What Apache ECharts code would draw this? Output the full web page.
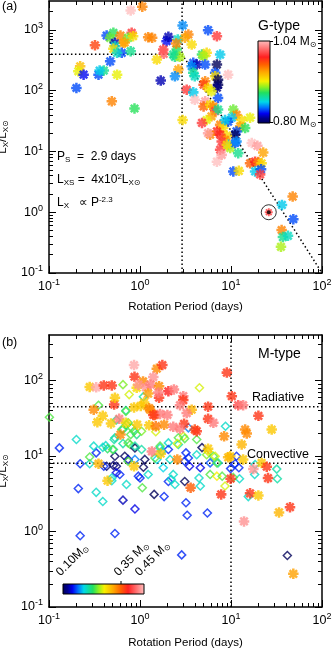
<!DOCTYPE html>
<html>
<head>
<meta charset="utf-8">
<script src="https://cdn.jsdelivr.net/npm/echarts@6/dist/echarts.min.js"></script>
<style>
html,body{margin:0;padding:0;background:#fff;}
#main{width:332px;height:650px;}
</style>
</head>
<body>
<div id="main"></div>
<script>
// (a) G-type stars: [rotation period (days), Lx/Lx_sun, mass (Msun)]
var gStars = [
 [0.79,2100,1.04],[1.06,2420,0.96],[0.32,561,0.98],[0.43,811,0.84],[0.51,899,0.89],
 [0.47,743,0.90],[0.53,615,0.82],[0.61,811,0.96],[0.65,615,0.95],[0.53,541,0.87],
 [0.81,899,1.00],[0.74,743,0.90],[0.84,790,0.93],[0.51,490,0.93],[0.63,421,0.84],
 [0.79,447,0.88],[0.47,305,0.84],[0.22,253,0.94],[0.21,209,0.92],[0.24,184,0.83],
 [0.35,184,0.84],[0.40,215,0.88],[0.36,215,0.86],[0.20,111,0.84],[0.56,184,0.92],
 [0.49,67,0.96],[0.87,51,0.89],[1.23,760,0.96],[1.36,743,0.96],[1.96,653,0.83],
 [2.05,773,0.82],[1.80,476,1.00],[1.82,405,1.01],[1.53,326,0.93],[2.53,476,0.89],
 [2.42,361,0.88],[2.73,361,0.91],[2.6,700,0.87],[2.64,223,0.95],[2.42,173,0.85],
 [1.69,147,0.82],[2.94,1190,0.85],[2.94,33,0.93],[3.40,843,0.96],[3.12,743,0.95],
 [3.70,576,0.93],[2.5,600,0.96],[2.32,394,0.88],[5.6,993,0.84],[7.0,790,1.00],
 [7.6,394,0.86],[4.8,394,0.89],[5.4,421,0.93],[5.0,370,0.91],[3.85,288,0.84],
 [4.2,270,0.82],[3.70,253,0.85],[5.2,270,0.84],[7.0,270,0.80],[3.85,197,0.88],
 [4.0,173,0.87],[6.7,197,0.84],[6.7,173,0.93],[7.2,152,0.80],[9.3,184,1.04],
 [7.2,126,0.80],[7.0,112,0.81],[5.2,143,0.96],[5.0,126,0.98],[5.6,111,0.93],
 [3.26,104,1.00],[3.85,94,0.86],[7.2,76,0.84],[4.0,71,1.04],[5.2,67,1.03],
 [5.0,55,0.97],[5.9,59,0.93],[6.4,55,0.96],[6.7,46,1.00],[7.2,49,0.88],
 [6.1,38,0.95],[5.4,33,0.92],[10.6,49,0.90],[11.5,40,0.96],[10.2,36,0.86],
 [13.1,33,0.93],[16.2,36,0.92],[9.3,31,0.84],[4.8,29.5,1.00],[7.6,27.6,0.96],
 [8.2,24.3,0.93],[7.0,21.4,0.99],[12.6,25.9,0.95],[14.3,24.3,0.89],[11.5,21.4,0.84],
 [11.1,18.9,0.80],[5.9,18.9,0.96],[9.0,18.2,0.93],[7.6,18.9,0.99],[8.6,15.6,0.96],
 [9.3,12.9,0.86],[7.6,10.7,1.00],[9.8,11.4,0.91],[11.1,13.8,0.84],[12.0,9.4,0.88],
 [7.0,6.8,1.04],[7.9,8.8,1.03],[16.9,13.8,1.04],[19.5,12.4,1.03],[22.6,9.6,0.95],
 [16.2,6.4,0.97],[18.4,6.8,0.99],[20,6.7,0.96],[21.7,6.4,0.93],[10.6,4.7,0.84],
 [12.2,4.8,0.93],[18.4,4.7,0.86],[21.4,5.1,0.84],[20.9,4.2,1.00],[47.6,1.81,0.96],
 [36.3,1.32,0.86],[48.4,0.77,0.84],[36,0.51,0.96],[37.2,0.39,0.88],[42.3,0.41,0.87],
 [35.4,0.27,0.91],[5.6,20,1.03],[7.9,14.6,1.00],[11.5,14.6,0.85],[8.6,33,0.86],
 [9.0,12.9,0.93],[6.1,98,0.92],[0.56,421,0.87],[0.68,622,0.95]
];
var sunPoint = [[26, 1.0]];
var sunMass = 1.0;
var gSatLine = [[0.105, 400], [2.9, 400]];
var gPsLine = [[2.9, 0.1], [2.9, 3000]];
var gFitLine = [[2.9, 400], [100, 0.1]];

// (b) M-type stars, asterisks (partly radiative) and diamonds (fully convective)
var mRadiative = [
 [0.28,82,0.30],[0.33,81,0.44],[0.40,86,0.37],[0.49,86,0.37],[0.86,160,0.44],
 [0.87,112,0.37],[1.08,97,0.33],[1.16,81,0.43],[0.92,80,0.29],[1.53,143,0.33],
 [1.76,160,0.37],[1.40,111,0.43],[1.31,88,0.42],[1.62,84,0.33],[1.23,67,0.32],
 [2.05,72,0.38],[1.62,59,0.37],[2.36,76,0.42],[2.99,62,0.42],[0.52,48,0.37],
 [0.31,41,0.33],[0.39,34,0.30],[0.34,28,0.30],[0.48,27,0.30],[0.59,31,0.42],
 [0.70,27.5,0.29],[0.86,44,0.30],[1.02,46,0.30],[1.11,51,0.30],[1.26,43,0.33],
 [1.46,35,0.35],[1.66,36,0.42],[2.0,35,0.42],[0.93,26,0.30],[1.26,25.5,0.30],
 [1.49,24.8,0.34],[1.84,26,0.33],[3.05,26.7,0.37],[2.32,24.3,0.42],[4.0,22.4,0.36],
 [0.61,19.2,0.33],[1.35,11.5,0.42],[0.35,7.9,0.31],[1.69,10.7,0.30],[2.57,9.0,0.33],
 [2.99,55,0.37],[5.6,45,0.37],[9.0,127,0.37],[10.2,62,0.37],[12.0,47,0.40],
 [13.6,47,0.42],[20,34,0.37],[14.3,22.4,0.33],[14.9,19.8,0.33],[13.1,14.2,0.31],
 [28,22.4,0.30],[21.7,8.1,0.30],[9.8,9.9,0.30],[17.6,6.7,0.43],[24.7,7.2,0.37],
 [5.6,31,0.37],[6.4,27.5,0.42],[8.4,18.2,0.33],[3.7,41,0.31],[3.26,37,0.42],
 [4.2,21.3,0.37],[9.3,9.6,0.31],[13.6,9.0,0.30],[0.44,4.7,0.30],[0.86,7.3,0.30],
 [3.6,3.8,0.35],[7.8,3.1,0.37],[9.9,5.0,0.37],[25.5,5.1,0.37],[16.2,3.2,0.37],
 [20,3.0,0.30],[33.7,1.79,0.31],[44.5,2.1,0.37],[13.9,1.36,0.43],[48.4,0.275,0.32],
 [5.6,12.5,0.30],[2.75,23,0.42],[0.53,59,0.30],[0.96,88,0.43],[1.59,69,0.42],
 [1.29,41,0.33],[1.40,35,0.37],[2.75,47,0.42]
];
var mConvective = [
 [0.101,32.6,0.24],[0.13,12.8,0.15],[0.20,16.5,0.20],[0.22,7.9,0.15],[0.28,7.9,0.20],
 [0.33,11,0.15],[0.28,9.7,0.24],[0.31,13.5,0.20],[0.42,13.7,0.20],[0.65,88,0.25],
 [0.76,65,0.27],[4.5,80,0.27],[1.09,61,0.21],[0.70,40,0.21],[0.35,47,0.24],
 [0.55,30,0.21],[0.74,27.5,0.24],[0.63,22.4,0.24],[0.86,21.3,0.23],[0.92,19.2,0.22],
 [0.53,17.4,0.21],[0.65,14.6,0.21],[0.78,14.2,0.24],[3.4,23.6,0.17],[8.7,24.8,0.20],
 [4.8,12.9,0.10],[3.0,18.2,0.27],[2.05,14.9,0.20],[1.66,12.8,0.20],[2.64,17.4,0.24],
 [5.4,10.4,0.25],[6.4,9.9,0.24],[5.9,8.1,0.16],[7.2,8.1,0.20],[11.5,9.9,0.15],
 [11.1,7.9,0.15],[18.4,7.7,0.20],[31.8,6.7,0.21],[0.53,9.9,0.10],[0.55,7.3,0.11],
 [0.43,7.3,0.11],[0.88,12.8,0.10],[1.13,9.0,0.10],[3.1,8.5,0.15],[0.52,16.5,0.21],
 [0.65,22.4,0.22],[0.74,14.9,0.24],[0.88,13.5,0.21],[0.44,12.5,0.23],[0.51,12.2,0.21],
 [0.68,9.9,0.10],[0.74,9.0,0.13],[0.51,7.5,0.11],[0.55,6.0,0.14],[0.49,5.1,0.20],
 [1.09,7.1,0.10],[1.23,5.7,0.20],[1.0,5.1,0.15],[1.53,9.0,0.19],[1.80,7.0,0.19],
 [2.14,9.0,0.20],[2.32,5.7,0.20],[2.05,4.6,0.15],[3.4,9.4,0.15],[3.5,7.3,0.14],
 [4.6,7.0,0.14],[4.2,10.4,0.20],[6.7,9.9,0.27],[5.9,5.7,0.24],[7.0,5.4,0.28],
 [4.6,4.0,0.20],[3.1,4.6,0.10],[8.6,4.0,0.27],[4.2,16.5,0.24],[3.1,17,0.24],
 [2.64,14.2,0.21],[2.05,12.2,0.15],[1.66,13.5,0.24],[0.71,4.2,0.20],[0.21,3.7,0.15],
 [0.33,3.3,0.20],[0.39,2.5,0.20],[0.49,4.7,0.20],[0.65,2.6,0.13],[0.88,1.99,0.14],
 [1.06,3.8,0.24],[1.43,3.1,0.10],[1.84,2.9,0.15],[2.2,4.9,0.20],[3.2,2.4,0.15],
 [3.3,1.64,0.15],[5.5,1.76,0.15],[9.9,6.8,0.15],[12.2,7.0,0.15],[12.4,5.0,0.20],
 [15.5,2.9,0.20],[18.2,5.7,0.20],[32.3,5.0,0.21],[0.22,0.88,0.15],[0.53,0.94,0.15],
 [2.87,0.49,0.15],[41.6,0.48,0.10],[0.70,39,0.24],[0.71,26,0.23],[0.79,19.2,0.24],
 [1.04,21.3,0.25],[1.49,20.9,0.27],[5.6,11.5,0.27],[7.0,8.1,0.24],[0.50,12.2,0.24],
 [0.39,13,0.20],[2.57,14.6,0.27],[3.2,11,0.15],[4.45,5.1,0.20],[8.0,5.4,0.24],
 [10.6,5.2,0.24],[0.96,5.4,0.15],[0.40,7.3,0.15],[0.81,23.6,0.24],[1.04,12.2,0.21],
 [1.73,11.5,0.20],[2.42,4.2,0.20],[0.88,9.0,0.17],[1.46,9.4,0.24],[0.74,8.5,0.24],
 [0.60,5.7,0.15]
];
var mRadLine = [[0.1, 45], [100, 45]];
var mConvLine = [[0.1, 8], [100, 8]];
var mPLine = [[10, 0.1], [10, 400]];

// axis ticks
var xMajor = [0.1, 1, 10, 100];
var xMinor = [0.2,0.3,0.4,0.5,0.6,0.7,0.8,0.9,2,3,4,5,6,7,8,9,20,30,40,50,60,70,80,90];
var yMajorA = [0.1, 1, 10, 100, 1000];
var yMinorA = [0.2,0.3,0.4,0.5,0.6,0.7,0.8,0.9,2,3,4,5,6,7,8,9,20,30,40,50,60,70,80,90,
               200,300,400,500,600,700,800,900,2000];
var yMajorB = [0.1, 1, 10, 100];
var yMinorB = [0.2,0.3,0.4,0.5,0.6,0.7,0.8,0.9,2,3,4,5,6,7,8,9,20,30,40,50,60,70,80,90,200,300];
var massRangeG = [0.80, 1.04];
var massRangeM = [0.10, 0.45];

var FONT = '"Liberation Sans", Arial, Helvetica, "DejaVu Sans", sans-serif';

// rainbow + white colour table
var rampStops = [
 [0.00,[0,0,90]],[0.06,[0,0,140]],[0.12,[0,0,240]],[0.19,[0,112,255]],
 [0.26,[0,216,232]],[0.37,[32,224,96]],[0.44,[144,240,32]],[0.51,[248,240,0]],
 [0.62,[255,168,0]],[0.71,[255,96,0]],[0.80,[255,32,32]],[0.90,[255,112,112]],
 [1.00,[255,192,192]]
];
function rampColor(t){
  t = Math.max(0, Math.min(1, t));
  for (var i = 1; i < rampStops.length; i++) {
    if (t <= rampStops[i][0]) {
      var a = rampStops[i-1], b = rampStops[i];
      var f = (t - a[0]) / (b[0] - a[0]);
      var c = [0,1,2].map(function(k){ return Math.round(a[1][k] + f*(b[1][k]-a[1][k])); });
      return 'rgb(' + c.join(',') + ')';
    }
  }
  return 'rgb(255,192,192)';
}
function rampGradient(vertical){
  return {
    type:'linear', x:0, y:0, x2: vertical ? 0 : 1, y2: vertical ? 1 : 0,
    colorStops: rampStops.map(function(s){
      return {offset: vertical ? 1 - s[0] : s[0], color: rampColor(s[0])};
    })
  };
}

// bold 8-armed asterisk (IDL psym=2 look)
var ASTERISK = 'path://M0 38H100V62H0Z M38 0H62V100H38Z M23.09 6.11L93.89 76.91L76.91 93.89L6.11 23.09Z M6.11 76.91L76.91 6.11L93.89 23.09L23.09 93.89Z';

function starData(arr, rng){
  return arr.map(function(d){
    return {value:[d[0], d[1]], itemStyle:{color: rampColor((d[2]-rng[0])/(rng[1]-rng[0]))}};
  });
}
function diamondData(arr, rng){
  return arr.map(function(d){
    return {value:[d[0], d[1]], itemStyle:{color:'rgba(0,0,0,0)', borderWidth:1.5,
      borderColor: rampColor((d[2]-rng[0])/(rng[1]-rng[0]))}};
  });
}
function dotted(data, xi, yi){
  return {type:'line', xAxisIndex:xi, yAxisIndex:yi, data:data, symbol:'none', silent:true, z:1,
          lineStyle:{color:'#000', width:1.5, type:[1.5, 2.5]}};
}

function powLabel(v){
  var e = Math.round(Math.log(v) / Math.LN10);
  return '{b|10}{e|' + e + '}';
}
var labelRich = {
  b:{fontSize:12.5, fontFamily:FONT, color:'#000'},
  e:{fontSize:9, fontFamily:FONT, color:'#000', padding:[0,0,8,0]}
};
var nameRich = {
  n:{fontSize:11.5, fontFamily:FONT, color:'#000'},
  s:{fontSize:8, fontFamily:FONT, color:'#000', padding:[6,0,0,0]}
};

function axisSet(dim, grid, min, max, major, minor, name, gap){
  var p1 = dim === 'x' ? 'bottom' : 'left';
  var p2 = dim === 'x' ? 'top' : 'right';
  function ax(pos, ticks, len, line, label){
    var a = {
      type:'log', logBase:10, gridIndex:grid, position:pos, min:min, max:max,
      splitLine:{show:false}, minorTick:{show:false}, minorSplitLine:{show:false},
      axisLine: line ? {show:true, onZero:false, lineStyle:{color:'#000', width:1.5}} : {show:false},
      axisTick:{show:true, inside:true, length:len, customValues:ticks, lineStyle:{color:'#000', width:1}},
      axisLabel: label ? {show:true, customValues:major, formatter:powLabel, rich:labelRich,
                          margin: dim === 'x' ? 5 : 6} : {show:false}
    };
    if (label) {
      a.name = name;
      a.nameLocation = 'middle';
      a.nameGap = gap;
      a.nameTextStyle = {rich:nameRich, fontFamily:FONT, fontSize:11.5, color:'#000'};
    }
    return a;
  }
  return [ax(p1, major, 7, true, true), ax(p1, minor, 4, false, false),
          ax(p2, major, 7, true, false), ax(p2, minor, 4, false, false)];
}

var subRich = function(s){
  return {
    n:{fontSize:s, fontFamily:FONT, fill:'#000', color:'#000'},
    sub:{fontSize:Math.round(s*0.68), fontFamily:FONT, fill:'#000', color:'#000', padding:[Math.round(s*0.5),0,0,0]},
    sup:{fontSize:Math.round(s*0.7), fontFamily:FONT, fill:'#000', color:'#000', padding:[0,0,Math.round(s*0.6),0]}
  };
};
function txt(x, y, text, size, opt){
  opt = opt || {};
  return {type:'text', x:x, y:y, rotation:opt.rot || 0, silent:true, z:50,
    style:{text:text, fill:'#000', font:size + 'px ' + FONT, rich:subRich(size),
      align:opt.align || 'left', textAlign:opt.align || 'left',
      verticalAlign:opt.va || 'middle', textVerticalAlign:opt.va || 'middle'}};
}
function seg(x1, y1, x2, y2){
  return {type:'line', silent:true, z:50, shape:{x1:x1, y1:y1, x2:x2, y2:y2}, style:{stroke:'#000', lineWidth:1}};
}

var graphics = [
  txt(2, 7, '(a)', 12.5),
  txt(2, 343, '(b)', 12.5),
  txt(258, 26, 'G-type', 14),
  txt(258, 354, 'M-type', 14),
  txt(252, 398, 'Radiative', 12.5),
  txt(247, 455, 'Convective', 12.5),
  txt(57, 157, '{n|P}{sub|S}{n|  =  2.9 days}', 12),
  txt(57, 180, '{n|L}{sub|XS}{n| =  4x10}{sup|2}{n|L}{sub|X⊙}', 12),
  txt(57, 203, '{n|L}{sub|X}{n|   ∝ P}{sup|-2.3}', 12),
  // colour bar (a)
  {type:'rect', silent:true, z:50, shape:{x:258, y:41, width:12, height:82},
   style:{fill:rampGradient(true), stroke:'#000', lineWidth:1}},
  seg(270, 41.5, 273, 41.5), seg(270, 122.5, 273, 122.5),
  txt(273, 42, '{n|1.04 M}{sub|⊙}', 12),
  txt(273, 122, '{n|0.80 M}{sub|⊙}', 12),
  // colour bar (b)
  {type:'rect', silent:true, z:50, shape:{x:63, y:584, width:81, height:10},
   style:{fill:rampGradient(false), stroke:'#000', lineWidth:1}},
  seg(121, 584, 121, 581),
  txt(63, 579, '{n|0.10M}{sub|⊙}', 12, {rot:Math.PI/4, va:'bottom'}),
  txt(121, 579, '{n|0.35 M}{sub|⊙}', 12, {rot:Math.PI/4, va:'bottom'}),
  txt(142, 579, '{n|0.45 M}{sub|⊙}', 12, {rot:Math.PI/4, va:'bottom'})
];

var yName = '{n|L}{s|X}{n|/L}{s|X⊙}';
var chart = echarts.init(document.getElementById('main'), null, {renderer:'canvas', width:332, height:650});
var option = {
  animation:false,
  backgroundColor:'#fff',
  textStyle:{fontFamily:FONT},
  grid:[
    {left:49, top:1, width:273, height:272, outerBoundsMode:'none'},
    {left:49, top:335, width:273, height:272, outerBoundsMode:'none'}
  ],
  xAxis: [].concat(
    axisSet('x', 0, 0.1, 100, xMajor, xMinor, 'Rotation Period (days)', 28),
    axisSet('x', 1, 0.1, 100, xMajor, xMinor, 'Rotation Period (days)', 30)
  ),
  yAxis: [].concat(
    axisSet('y', 0, 0.1, 3000, yMajorA, yMinorA, yName, 31),
    axisSet('y', 1, 0.1, 400, yMajorB, yMinorB, yName, 31)
  ),
  series: [
    dotted(gSatLine, 0, 0), dotted(gPsLine, 0, 0), dotted(gFitLine, 0, 0),
    {type:'scatter', xAxisIndex:0, yAxisIndex:0, symbol:ASTERISK, symbolSize:10.5, silent:true,
     data: starData(gStars, massRangeG)},
    {type:'scatter', xAxisIndex:0, yAxisIndex:0, symbol:'circle', symbolSize:15, silent:true, z:3,
     data: sunPoint, itemStyle:{color:'rgba(0,0,0,0)', borderColor:'#000', borderWidth:1}},
    {type:'scatter', xAxisIndex:0, yAxisIndex:0, symbol:ASTERISK, symbolSize:8, silent:true, z:3,
     data: sunPoint, itemStyle:{color: rampColor((sunMass-massRangeG[0])/(massRangeG[1]-massRangeG[0]))}},
    {type:'scatter', xAxisIndex:0, yAxisIndex:0, symbol:'circle', symbolSize:4, silent:true, z:4,
     data: sunPoint, itemStyle:{color:'#000'}},

    dotted(mRadLine, 4, 4), dotted(mConvLine, 4, 4), dotted(mPLine, 4, 4),
    {type:'scatter', xAxisIndex:4, yAxisIndex:4, symbol:'diamond', symbolSize:8, silent:true,
     data: diamondData(mConvective, massRangeM)},
    {type:'scatter', xAxisIndex:4, yAxisIndex:4, symbol:ASTERISK, symbolSize:10.5, silent:true,
     data: starData(mRadiative, massRangeM)}
  ],
  graphic:{elements: graphics}
};
chart.setOption(option);
</script>
</body>
</html>
